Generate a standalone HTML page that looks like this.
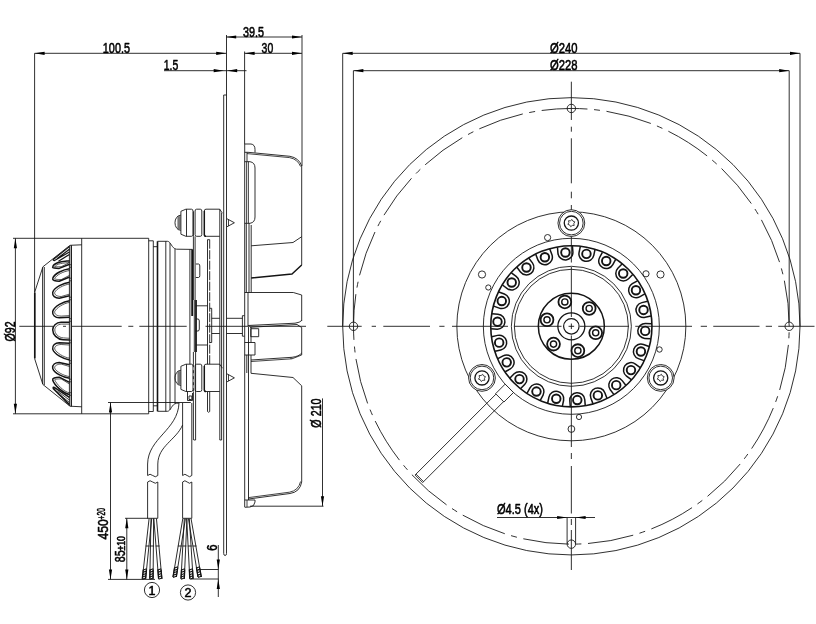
<!DOCTYPE html>
<html><head><meta charset="utf-8"><title>Drawing</title>
<style>
html,body{margin:0;padding:0;background:#fff;}
body{width:816px;height:624px;overflow:hidden;}
svg{display:block;filter:grayscale(1);}
svg text{font-family:"Liberation Sans",sans-serif;fill:#000;stroke:#000;stroke-width:0.55;}
svg .g{fill:none;stroke:#141414;stroke-linecap:butt;stroke-linejoin:round;}
</style></head><body>
<svg width="816" height="624" viewBox="0 0 816 624">
<rect width="816" height="624" fill="#fff"/>
<g class="g">
<line x1="34.60" y1="53.30" x2="226.20" y2="53.30" stroke-width="0.88" />
<polygon points="34.60,53.30 44.60,51.70 44.60,54.90" fill="#000" stroke="none"/>
<polygon points="226.20,53.30 216.20,51.70 216.20,54.90" fill="#000" stroke="none"/>
<text x="102.80" y="53.00" font-size="14" textLength="27.2" lengthAdjust="spacingAndGlyphs" >100.5</text>
<line x1="34.60" y1="53.30" x2="34.60" y2="292.50" stroke-width="0.88" />
<line x1="226.20" y1="37.00" x2="302.00" y2="37.00" stroke-width="0.88" />
<polygon points="226.20,37.00 236.20,35.40 236.20,38.60" fill="#000" stroke="none"/>
<polygon points="302.00,37.00 292.00,35.40 292.00,38.60" fill="#000" stroke="none"/>
<text x="243.00" y="36.70" font-size="14" textLength="21" lengthAdjust="spacingAndGlyphs" >39.5</text>
<line x1="244.60" y1="53.30" x2="302.00" y2="53.30" stroke-width="0.88" />
<polygon points="244.60,53.30 254.60,51.70 254.60,54.90" fill="#000" stroke="none"/>
<polygon points="302.00,53.30 292.00,51.70 292.00,54.90" fill="#000" stroke="none"/>
<text x="261.60" y="53.00" font-size="14" textLength="11.6" lengthAdjust="spacingAndGlyphs" >30</text>
<line x1="302.00" y1="35.00" x2="302.00" y2="166.00" stroke-width="0.88" />
<line x1="244.60" y1="51.50" x2="244.60" y2="144.00" stroke-width="0.88" />
<line x1="164.00" y1="70.70" x2="246.50" y2="70.70" stroke-width="0.88" />
<polygon points="223.70,70.70 213.70,69.10 213.70,72.30" fill="#000" stroke="none"/>
<polygon points="227.20,70.70 237.20,69.10 237.20,72.30" fill="#000" stroke="none"/>
<text x="163.70" y="70.30" font-size="14" textLength="14.5" lengthAdjust="spacingAndGlyphs" >1.5</text>
<line x1="226.50" y1="35.00" x2="226.50" y2="553.50" stroke-width="0.88" />
<line x1="223.70" y1="95.00" x2="223.70" y2="553.50" stroke-width="0.88" />
<path d="M223.7,553.5 Q223.7,555.5 225.1,555.5 Q226.5,555.5 226.5,553.5" stroke-width="0.88" />
<line x1="223.70" y1="95.00" x2="226.50" y2="95.00" stroke-width="0.88" />
<line x1="15.40" y1="238.30" x2="15.40" y2="413.80" stroke-width="0.88" />
<polygon points="15.40,238.30 13.80,248.30 17.00,248.30" fill="#000" stroke="none"/>
<polygon points="15.40,413.80 13.80,403.80 17.00,403.80" fill="#000" stroke="none"/>
<line x1="13.00" y1="238.30" x2="148.70" y2="238.30" stroke-width="0.88" />
<line x1="13.00" y1="413.80" x2="148.70" y2="413.80" stroke-width="0.88" />
<text x="15.00" y="341.40" font-size="14" textLength="20" lengthAdjust="spacingAndGlyphs" transform="rotate(-90 15.00 341.40)" >Ø92</text>
<line x1="19.30" y1="326.30" x2="53.00" y2="326.30" stroke-width="0.88" />
<line x1="63.00" y1="326.30" x2="66.00" y2="326.30" stroke-width="0.88" />
<line x1="72.00" y1="326.30" x2="121.70" y2="326.30" stroke-width="0.88" />
<line x1="128.30" y1="326.30" x2="133.30" y2="326.30" stroke-width="0.88" />
<line x1="139.30" y1="326.30" x2="186.70" y2="326.30" stroke-width="0.88" />
<line x1="205.50" y1="326.30" x2="306.00" y2="326.30" stroke-width="0.88" />
<line x1="81.70" y1="238.30" x2="81.70" y2="413.80" stroke-width="0.88" />
<line x1="148.70" y1="238.30" x2="148.70" y2="413.80" stroke-width="0.88" />
<path d="M34.6,292.5 L42.9,266.8 L70,245.3 L81.7,244.8" stroke-width="0.88" />
<path d="M34.6,358.5 L42.9,384.5 L70,406.2 L81.7,406.8" stroke-width="0.88" />
<line x1="34.80" y1="292.50" x2="34.80" y2="358.50" stroke-width="1.7" />
<line x1="42.60" y1="267.50" x2="42.60" y2="384.00" stroke-width="0.88" />
<line x1="44.30" y1="267.00" x2="44.30" y2="385.00" stroke-width="0.88" />
<line x1="69.40" y1="246.00" x2="69.40" y2="406.00" stroke-width="0.88" />
<line x1="71.30" y1="245.30" x2="71.30" y2="406.50" stroke-width="1.3" />
<path d="M69.6,260.70 C63.599999999999994,261.50 54.20,261.70 52.70,266.90 C52.10,267.80 55.20,268.40 59.20,268.40 L69.6,264.20" stroke-width="1.5" />
<path d="M69.6,262.40 C63.599999999999994,263.20 56.24,263.40 54.74,266.90 C54.14,266.78 57.24,266.70 61.24,266.70 L69.6,262.50" stroke-width="0.7" />
<path d="M69.6,268.80 C63.599999999999994,269.60 54.20,273.30 52.70,278.50 C52.10,280.18 55.20,281.30 59.20,281.30 L69.6,277.00" stroke-width="1.5" />
<path d="M69.6,270.50 C63.599999999999994,271.30 56.24,275.00 54.74,278.50 C54.14,279.16 57.24,279.60 61.24,279.60 L69.6,275.30" stroke-width="0.7" />
<path d="M69.6,282.30 C63.599999999999994,283.10 54.20,287.20 52.70,292.40 C52.10,295.88 55.20,298.20 59.20,298.20 L69.6,295.80" stroke-width="1.5" />
<path d="M69.6,284.00 C63.599999999999994,284.80 56.24,288.90 54.74,292.40 C54.14,294.86 57.24,296.50 61.24,296.50 L69.6,294.10" stroke-width="0.7" />
<path d="M69.6,300.70 C63.599999999999994,301.50 54.20,306.30 52.70,311.50 C52.10,315.28 55.20,317.80 59.20,317.80 L69.6,317.30" stroke-width="1.5" />
<path d="M69.6,302.40 C63.599999999999994,303.20 56.24,308.00 54.74,311.50 C54.14,314.26 57.24,316.10 61.24,316.10 L69.6,315.60" stroke-width="0.7" />
<path d="M69.6,394.50 C63.599999999999994,393.70 54.20,385.20 52.70,380.00 C52.10,378.32 55.20,377.20 59.20,377.20 L69.6,382.40" stroke-width="1.5" />
<path d="M69.6,392.80 C63.599999999999994,392.00 56.24,383.50 54.74,380.00 C54.14,379.34 57.24,378.90 61.24,378.90 L69.6,384.10" stroke-width="0.7" />
<path d="M69.6,378.30 C63.599999999999994,377.50 54.20,373.40 52.70,368.20 C52.10,364.72 55.20,362.40 59.20,362.40 L69.6,364.80" stroke-width="1.5" />
<path d="M69.6,376.60 C63.599999999999994,375.80 56.24,371.70 54.74,368.20 C54.14,365.74 57.24,364.10 61.24,364.10 L69.6,366.50" stroke-width="0.7" />
<path d="M69.6,359.90 C63.599999999999994,359.10 54.20,354.30 52.70,349.10 C52.10,345.32 55.20,342.80 59.20,342.80 L69.6,343.30" stroke-width="1.5" />
<path d="M69.6,358.20 C63.599999999999994,357.40 56.24,352.60 54.74,349.10 C54.14,346.34 57.24,344.50 61.24,344.50 L69.6,345.00" stroke-width="0.7" />
<path d="M69.6,322.3 L61,322.3 C56,322.5 52.7,326 52.7,329.8 C52.7,334.5 57,339.3 63.2,339.7 L69.6,340.1" stroke-width="1.5" />
<path d="M69.6,324.1 L61.5,324.1 C57.5,324.3 54.8,327 54.8,329.9 C54.8,333.6 58.3,337.6 63.5,337.9 L69.6,338.3" stroke-width="0.7" />
<path d="M69.4,246.6 L53.6,259.2 Q52.4,260.6 54.6,260.6 L69.4,252 M69.4,249.2 L57,258.8 M69.4,254.4 L58.5,261.2" stroke-width="1.2" />
<path d="M69.4,397.4 L55.8,388.4 Q52.4,386.2 53.4,388.6 L69.4,404.6" stroke-width="1.5" />
<path d="M69.4,400 L57.5,391.2 M69.4,402.4 L58,393.4" stroke-width="0.8" />
<line x1="69.40" y1="264.70" x2="71.30" y2="264.70" stroke-width="0.7" />
<line x1="69.40" y1="267.30" x2="71.30" y2="267.30" stroke-width="0.7" />
<line x1="69.40" y1="278.20" x2="71.30" y2="278.20" stroke-width="0.7" />
<line x1="69.40" y1="280.80" x2="71.30" y2="280.80" stroke-width="0.7" />
<line x1="69.40" y1="297.20" x2="71.30" y2="297.20" stroke-width="0.7" />
<line x1="69.40" y1="299.80" x2="71.30" y2="299.80" stroke-width="0.7" />
<line x1="69.40" y1="318.70" x2="71.30" y2="318.70" stroke-width="0.7" />
<line x1="69.40" y1="321.30" x2="71.30" y2="321.30" stroke-width="0.7" />
<line x1="69.40" y1="340.20" x2="71.30" y2="340.20" stroke-width="0.7" />
<line x1="69.40" y1="342.80" x2="71.30" y2="342.80" stroke-width="0.7" />
<line x1="69.40" y1="360.70" x2="71.30" y2="360.70" stroke-width="0.7" />
<line x1="69.40" y1="363.30" x2="71.30" y2="363.30" stroke-width="0.7" />
<line x1="69.40" y1="379.20" x2="71.30" y2="379.20" stroke-width="0.7" />
<line x1="69.40" y1="381.80" x2="71.30" y2="381.80" stroke-width="0.7" />
<line x1="69.40" y1="392.70" x2="71.30" y2="392.70" stroke-width="0.7" />
<line x1="69.40" y1="395.30" x2="71.30" y2="395.30" stroke-width="0.7" />
<path d="M148.7,240.8 L153.3,240.8 L153.3,411.5 L148.7,411.5" stroke-width="0.88" />
<line x1="153.30" y1="246.70" x2="157.50" y2="246.70" stroke-width="0.88" />
<line x1="153.30" y1="405.80" x2="157.50" y2="405.80" stroke-width="0.88" />
<line x1="157.50" y1="241.30" x2="157.50" y2="411.30" stroke-width="1.6" />
<path d="M157.5,241.3 L167.5,241.3 C171,241.5 171.5,248.5 176.5,249.2 L192.5,249.4" stroke-width="0.88" />
<path d="M157.5,411.3 L167.5,411.3 C171,411 171.5,404 176.5,403.3 L179,403" stroke-width="0.88" />
<line x1="165.80" y1="241.30" x2="165.80" y2="411.30" stroke-width="0.88" />
<line x1="170.00" y1="243.00" x2="170.00" y2="409.60" stroke-width="0.88" />
<line x1="175.00" y1="249.00" x2="175.00" y2="403.50" stroke-width="0.88" />
<line x1="192.20" y1="249.40" x2="192.20" y2="316.00" stroke-width="1.9" />
<line x1="189.90" y1="249.40" x2="189.90" y2="364.20" stroke-width="0.88" />
<line x1="193.40" y1="211.30" x2="193.40" y2="236.30" stroke-width="0.88" />
<line x1="193.40" y1="236.30" x2="193.40" y2="300.00" stroke-width="0.88" />
<line x1="194.30" y1="300.00" x2="194.30" y2="352.00" stroke-width="0.88" />
<line x1="193.40" y1="352.00" x2="193.40" y2="364.20" stroke-width="0.88" />
<line x1="193.40" y1="364.20" x2="193.40" y2="391.50" stroke-width="0.88" stroke-dasharray="3 3"/>
<line x1="193.40" y1="391.50" x2="193.40" y2="440.00" stroke-width="0.88" />
<line x1="195.10" y1="236.30" x2="195.10" y2="300.00" stroke-width="0.88" />
<line x1="196.00" y1="300.00" x2="196.00" y2="352.00" stroke-width="1.8" />
<line x1="195.60" y1="352.00" x2="195.60" y2="440.00" stroke-width="0.88" />
<path d="M193.8,440 L195.6,440" stroke-width="0.88" />
<path d="M195.8,264 L198.5,264 Q199.8,264 199.8,266 L199.8,275.5 Q199.8,277.5 198.5,277.5 L195.8,277.5" stroke-width="0.88" />
<path d="M195.8,319 L198,319 Q199.3,319 199.3,321 L199.3,329 Q199.3,331 198,331 L195.8,331" stroke-width="0.88" />
<line x1="195.80" y1="305.80" x2="207.50" y2="305.80" stroke-width="0.88" />
<line x1="195.80" y1="345.00" x2="207.50" y2="345.00" stroke-width="0.88" />
<line x1="207.50" y1="239.70" x2="207.50" y2="364.20" stroke-width="0.88" />
<line x1="209.70" y1="239.70" x2="209.70" y2="364.20" stroke-width="0.88" stroke-dasharray="9 1.5"/>
<line x1="207.50" y1="239.70" x2="209.70" y2="239.70" stroke-width="0.88" />
<path d="M209.7,308.3 L211.7,308.3 L211.7,342.5 L209.7,342.5" stroke-width="0.88" />
<line x1="211.70" y1="318.30" x2="219.80" y2="318.30" stroke-width="0.88" />
<line x1="211.70" y1="333.50" x2="219.80" y2="333.50" stroke-width="0.88" />
<line x1="226.70" y1="318.30" x2="242.40" y2="318.30" stroke-width="0.88" />
<line x1="226.70" y1="333.50" x2="242.40" y2="333.50" stroke-width="0.88" />
<path d="M244.5,315.7 L242.4,315.7 L242.4,336.2 L244.5,336.2" stroke-width="0.88" />
<path d="M207.5,391.7 L207.5,411.5 Q208.6,413 209.7,411.5 L209.7,391.7" stroke-width="0.88" />
<line x1="219.80" y1="209.20" x2="219.80" y2="440.00" stroke-width="0.88" />
<line x1="221.60" y1="213.00" x2="221.60" y2="440.00" stroke-width="0.88" />
<line x1="219.80" y1="440.00" x2="221.60" y2="440.00" stroke-width="0.88" />
<path d="M180.9,215.15 C173.0,215.55 173.0,229.95 180.9,230.35" stroke-width="0.88" />
<line x1="178.00" y1="216.15" x2="178.00" y2="229.35" stroke-width="0.7" />
<line x1="179.00" y1="216.15" x2="179.00" y2="229.35" stroke-width="0.7" />
<line x1="180.00" y1="216.15" x2="180.00" y2="229.35" stroke-width="0.7" />
<path d="M180.9,211.29999999999998 L185.9,209.2 L191.5,209.2 Q193,209.2 193,211.2 L193,234.3 Q193,236.3 191.5,236.3 L185.9,236.3 L180.9,234.20000000000002 Z" stroke-width="0.88" />
<line x1="186.50" y1="209.20" x2="186.50" y2="236.30" stroke-width="0.88" />
<path d="M196.6,209.2 L200.3,209.2 Q201.8,209.2 201.8,211.0 L201.8,234.5 Q201.8,236.3 200.3,236.3 L196.6,236.3 Q195.1,236.3 195.1,234.5 L195.1,211.0 Q195.1,209.2 196.6,209.2 Z" stroke-width="0.88" />
<path d="M204.3,211.0 Q204.3,209.2 206,209.2 L219.7,209.2 L222.4,213.2 M206,236.3 L219.7,236.3" stroke-width="0.88" />
<path d="M204.3,211.0 L204.3,234.5 Q204.3,236.3 206,236.3" stroke-width="1.5" />
<path d="M227,218.75 L234.4,222.75 L227,226.75" stroke-width="0.88" />
<line x1="228.50" y1="219.55" x2="228.50" y2="225.95" stroke-width="0.8" />
<path d="M180.9,370.25 C173.0,370.65000000000003 173.0,385.05 180.9,385.45000000000005" stroke-width="0.88" />
<line x1="178.00" y1="371.25" x2="178.00" y2="384.45" stroke-width="0.7" />
<line x1="179.00" y1="371.25" x2="179.00" y2="384.45" stroke-width="0.7" />
<line x1="180.00" y1="371.25" x2="180.00" y2="384.45" stroke-width="0.7" />
<path d="M180.9,366.3 L185.9,364.2 L191.5,364.2 Q193,364.2 193,366.2 L193,389.5 Q193,391.5 191.5,391.5 L185.9,391.5 L180.9,389.4 Z" stroke-width="0.88" />
<line x1="186.50" y1="364.20" x2="186.50" y2="391.50" stroke-width="0.88" />
<path d="M196.6,364.2 L200.3,364.2 Q201.8,364.2 201.8,366.0 L201.8,389.7 Q201.8,391.5 200.3,391.5 L196.6,391.5 Q195.1,391.5 195.1,389.7 L195.1,366.0 Q195.1,364.2 196.6,364.2 Z" stroke-width="0.88" />
<path d="M204.3,366.0 Q204.3,364.2 206,364.2 L219.7,364.2 L222.4,368.2 M206,391.5 L219.7,391.5" stroke-width="0.88" />
<path d="M204.3,366.0 L204.3,389.7 Q204.3,391.5 206,391.5" stroke-width="1.5" />
<path d="M227,373.85 L234.4,377.85 L227,381.85" stroke-width="0.88" />
<line x1="228.50" y1="374.65" x2="228.50" y2="381.05" stroke-width="0.8" />
<path d="M187.5,391.7 L187.5,400.5 L192.5,400.5 L192.5,393 M189,396 L191.8,396 L191.8,399.5 L189,399.5 Z" stroke-width="0.88" />
<line x1="108.00" y1="402.50" x2="190.80" y2="402.50" stroke-width="0.88" />
<line x1="110.50" y1="402.50" x2="110.50" y2="579.40" stroke-width="0.88" />
<polygon points="110.50,402.50 108.90,412.50 112.10,412.50" fill="#000" stroke="none"/>
<polygon points="110.50,579.40 108.90,569.40 112.10,569.40" fill="#000" stroke="none"/>
<line x1="108.00" y1="579.40" x2="155.00" y2="579.40" stroke-width="0.88" />
<text x="107.80" y="539.60" font-size="14" textLength="20.4" lengthAdjust="spacingAndGlyphs" transform="rotate(-90 107.80 539.60)" >450</text>
<text x="105.30" y="519.40" font-size="10.5" textLength="11.2" lengthAdjust="spacingAndGlyphs" transform="rotate(-90 105.30 519.40)" >+20</text>
<line x1="126.80" y1="518.30" x2="126.80" y2="579.40" stroke-width="0.88" />
<polygon points="126.80,518.30 125.20,528.30 128.40,528.30" fill="#000" stroke="none"/>
<polygon points="126.80,579.40 125.20,569.40 128.40,569.40" fill="#000" stroke="none"/>
<line x1="125.00" y1="518.30" x2="148.00" y2="518.30" stroke-width="0.88" />
<text x="124.80" y="562.20" font-size="14" textLength="11.8" lengthAdjust="spacingAndGlyphs" transform="rotate(-90 124.80 562.20)" >85</text>
<text x="124.80" y="550.60" font-size="10.5" textLength="14.6" lengthAdjust="spacingAndGlyphs" transform="rotate(-90 124.80 550.60)" >±10</text>
<path d="M179,403 C178,430 148,438 147.6,464 L147.6,475.5" stroke-width="0.88" />
<path d="M182.6,425 C176,440 158,446 157.8,464 L157.8,475.5" stroke-width="0.88" />
<path d="M147.6,475.5 Q150,473 152.7,475.5 T157.8,475.5" stroke-width="0.88" />
<path d="M147.6,482 Q150,479.5 152.7,482 T157.8,482" stroke-width="0.88" />
<line x1="147.60" y1="482.00" x2="147.60" y2="518.30" stroke-width="0.88" />
<line x1="157.80" y1="482.00" x2="157.80" y2="518.30" stroke-width="0.88" />
<line x1="147.60" y1="518.30" x2="157.80" y2="518.30" stroke-width="0.88" />
<line x1="182.60" y1="403.00" x2="182.60" y2="475.50" stroke-width="0.88" />
<line x1="191.80" y1="403.00" x2="191.80" y2="475.50" stroke-width="0.88" />
<path d="M182.6,475.5 Q184.9,473 187.2,475.5 T191.8,475.5" stroke-width="0.88" />
<path d="M182.6,482 Q184.9,479.5 187.2,482 T191.8,482" stroke-width="0.88" />
<line x1="182.60" y1="482.00" x2="182.60" y2="518.30" stroke-width="0.88" />
<line x1="191.80" y1="482.00" x2="191.80" y2="518.30" stroke-width="0.88" />
<line x1="182.60" y1="518.30" x2="191.80" y2="518.30" stroke-width="0.88" />
<line x1="149.10" y1="518.50" x2="142.30" y2="578.80" stroke-width="0.9" />
<line x1="151.74" y1="518.50" x2="145.60" y2="578.80" stroke-width="0.9" />
<line x1="143.35" y1="569.50" x2="142.30" y2="578.80" stroke-width="1.3" />
<line x1="146.52" y1="569.50" x2="145.60" y2="578.80" stroke-width="1.3" />
<line x1="143.35" y1="570.00" x2="146.65" y2="568.80" stroke-width="1.1" />
<line x1="143.09" y1="572.33" x2="146.39" y2="571.12" stroke-width="1.1" />
<line x1="142.82" y1="574.65" x2="146.12" y2="573.45" stroke-width="1.1" />
<line x1="142.56" y1="576.97" x2="145.86" y2="575.77" stroke-width="1.1" />
<line x1="142.30" y1="579.30" x2="145.60" y2="578.10" stroke-width="1.1" />
<line x1="145.70" y1="546.00" x2="149.60" y2="546.00" stroke-width="0.9" />
<line x1="151.00" y1="518.50" x2="149.80" y2="578.80" stroke-width="0.9" />
<line x1="153.64" y1="518.50" x2="153.10" y2="578.80" stroke-width="0.9" />
<line x1="149.99" y1="569.50" x2="149.80" y2="578.80" stroke-width="1.3" />
<line x1="153.15" y1="569.50" x2="153.10" y2="578.80" stroke-width="1.3" />
<line x1="149.99" y1="570.00" x2="153.29" y2="568.80" stroke-width="1.1" />
<line x1="149.94" y1="572.33" x2="153.24" y2="571.12" stroke-width="1.1" />
<line x1="149.89" y1="574.65" x2="153.19" y2="573.45" stroke-width="1.1" />
<line x1="149.85" y1="576.97" x2="153.15" y2="575.77" stroke-width="1.1" />
<line x1="149.80" y1="579.30" x2="153.10" y2="578.10" stroke-width="1.1" />
<line x1="150.15" y1="546.00" x2="154.05" y2="546.00" stroke-width="0.9" />
<line x1="153.80" y1="518.50" x2="158.60" y2="578.80" stroke-width="0.9" />
<line x1="156.44" y1="518.50" x2="161.90" y2="578.80" stroke-width="0.9" />
<line x1="157.86" y1="569.50" x2="158.60" y2="578.80" stroke-width="1.3" />
<line x1="161.03" y1="569.50" x2="161.90" y2="578.80" stroke-width="1.3" />
<line x1="157.86" y1="570.00" x2="161.16" y2="568.80" stroke-width="1.1" />
<line x1="158.04" y1="572.33" x2="161.34" y2="571.12" stroke-width="1.1" />
<line x1="158.23" y1="574.65" x2="161.53" y2="573.45" stroke-width="1.1" />
<line x1="158.41" y1="576.97" x2="161.71" y2="575.77" stroke-width="1.1" />
<line x1="158.60" y1="579.30" x2="161.90" y2="578.10" stroke-width="1.1" />
<line x1="155.69" y1="546.00" x2="159.59" y2="546.00" stroke-width="0.9" />
<line x1="182.80" y1="518.50" x2="173.00" y2="577.00" stroke-width="0.9" />
<line x1="185.44" y1="518.50" x2="176.30" y2="577.00" stroke-width="0.9" />
<line x1="174.59" y1="567.50" x2="173.00" y2="577.00" stroke-width="1.3" />
<line x1="177.76" y1="567.50" x2="176.30" y2="577.00" stroke-width="1.3" />
<line x1="174.59" y1="568.00" x2="177.89" y2="566.80" stroke-width="1.1" />
<line x1="174.19" y1="570.38" x2="177.49" y2="569.17" stroke-width="1.1" />
<line x1="173.80" y1="572.75" x2="177.10" y2="571.55" stroke-width="1.1" />
<line x1="173.40" y1="575.12" x2="176.70" y2="573.92" stroke-width="1.1" />
<line x1="173.00" y1="577.50" x2="176.30" y2="576.30" stroke-width="1.1" />
<line x1="177.89" y1="546.00" x2="181.79" y2="546.00" stroke-width="0.9" />
<line x1="184.30" y1="518.50" x2="181.00" y2="578.80" stroke-width="0.9" />
<line x1="186.94" y1="518.50" x2="184.30" y2="578.80" stroke-width="0.9" />
<line x1="181.51" y1="569.50" x2="181.00" y2="578.80" stroke-width="1.3" />
<line x1="184.68" y1="569.50" x2="184.30" y2="578.80" stroke-width="1.3" />
<line x1="181.51" y1="570.00" x2="184.81" y2="568.80" stroke-width="1.1" />
<line x1="181.38" y1="572.33" x2="184.68" y2="571.12" stroke-width="1.1" />
<line x1="181.25" y1="574.65" x2="184.55" y2="573.45" stroke-width="1.1" />
<line x1="181.13" y1="576.97" x2="184.43" y2="575.77" stroke-width="1.1" />
<line x1="181.00" y1="579.30" x2="184.30" y2="578.10" stroke-width="1.1" />
<line x1="182.50" y1="546.00" x2="186.40" y2="546.00" stroke-width="0.9" />
<line x1="186.70" y1="518.50" x2="189.80" y2="578.80" stroke-width="0.9" />
<line x1="189.34" y1="518.50" x2="193.10" y2="578.80" stroke-width="0.9" />
<line x1="189.32" y1="569.50" x2="189.80" y2="578.80" stroke-width="1.3" />
<line x1="192.49" y1="569.50" x2="193.10" y2="578.80" stroke-width="1.3" />
<line x1="189.32" y1="570.00" x2="192.62" y2="568.80" stroke-width="1.1" />
<line x1="189.44" y1="572.33" x2="192.74" y2="571.12" stroke-width="1.1" />
<line x1="189.56" y1="574.65" x2="192.86" y2="573.45" stroke-width="1.1" />
<line x1="189.68" y1="576.97" x2="192.98" y2="575.77" stroke-width="1.1" />
<line x1="189.80" y1="579.30" x2="193.10" y2="578.10" stroke-width="1.1" />
<line x1="187.81" y1="546.00" x2="191.71" y2="546.00" stroke-width="0.9" />
<line x1="188.40" y1="518.50" x2="198.00" y2="577.00" stroke-width="0.9" />
<line x1="191.04" y1="518.50" x2="201.30" y2="577.00" stroke-width="0.9" />
<line x1="196.44" y1="567.50" x2="198.00" y2="577.00" stroke-width="1.3" />
<line x1="199.61" y1="567.50" x2="201.30" y2="577.00" stroke-width="1.3" />
<line x1="196.44" y1="568.00" x2="199.74" y2="566.80" stroke-width="1.1" />
<line x1="196.83" y1="570.38" x2="200.13" y2="569.17" stroke-width="1.1" />
<line x1="197.22" y1="572.75" x2="200.52" y2="571.55" stroke-width="1.1" />
<line x1="197.61" y1="575.12" x2="200.91" y2="573.92" stroke-width="1.1" />
<line x1="198.00" y1="577.50" x2="201.30" y2="576.30" stroke-width="1.1" />
<line x1="192.61" y1="546.00" x2="196.51" y2="546.00" stroke-width="0.9" />
<circle cx="152.00" cy="590.00" r="7.60" stroke-width="0.88" />
<circle cx="188.00" cy="592.50" r="7.60" stroke-width="0.88" />
<text x="152" y="594.6" font-size="12.5" text-anchor="middle">1</text>
<text x="188" y="597.1" font-size="12.5" text-anchor="middle">2</text>
<line x1="218.30" y1="545.00" x2="218.30" y2="597.00" stroke-width="0.88" />
<polygon points="218.30,569.50 216.70,559.50 219.90,559.50" fill="#000" stroke="none"/>
<polygon points="218.30,579.00 216.70,589.00 219.90,589.00" fill="#000" stroke="none"/>
<line x1="198.00" y1="569.50" x2="218.50" y2="569.50" stroke-width="0.88" />
<line x1="191.00" y1="579.00" x2="218.50" y2="579.00" stroke-width="0.88" />
<text x="217.20" y="550.80" font-size="14" textLength="6.2" lengthAdjust="spacingAndGlyphs" transform="rotate(-90 217.20 550.80)" >6</text>
<line x1="244.70" y1="144.00" x2="244.70" y2="507.00" stroke-width="0.88" />
<line x1="301.70" y1="166.00" x2="301.70" y2="265.00" stroke-width="0.88" />
<line x1="301.70" y1="295.00" x2="301.70" y2="321.00" stroke-width="0.88" />
<line x1="301.70" y1="327.50" x2="301.70" y2="355.00" stroke-width="0.88" />
<line x1="301.70" y1="385.80" x2="301.70" y2="482.00" stroke-width="0.88" />
<path d="M244.7,144 L251,144 Q255,144.5 255,149.5 L255,152.5" stroke-width="0.88" />
<path d="M244.7,152.3 L248,152.3 L290,156.3 Q299,158 301.7,166" stroke-width="0.88" />
<path d="M247,153.6 L289.5,157.6 Q297.5,159 300.6,166.5" stroke-width="0.8" />
<line x1="247.00" y1="152.30" x2="247.00" y2="161.70" stroke-width="0.88" />
<path d="M244.7,161.7 L250,161.7 Q255,162.5 255,168 L255,217 Q255,222.5 250,223.3 L244.7,223.3" stroke-width="0.88" />
<line x1="246.60" y1="161.70" x2="246.60" y2="223.30" stroke-width="0.8" />
<line x1="248.40" y1="161.70" x2="248.40" y2="223.30" stroke-width="0.8" />
<line x1="246.30" y1="223.30" x2="246.30" y2="292.50" stroke-width="0.88" />
<line x1="249.00" y1="223.30" x2="249.00" y2="292.50" stroke-width="0.88" />
<line x1="251.20" y1="225.00" x2="251.20" y2="292.50" stroke-width="0.88" />
<path d="M251.2,245.8 L293,242.5 L301.7,236.7" stroke-width="0.88" />
<path d="M251.2,278 L292,274 L301.7,265" stroke-width="1.5" />
<path d="M244.7,292.5 L293.3,292.5 L301.7,295" stroke-width="0.88" />
<line x1="248.00" y1="292.50" x2="248.00" y2="326.00" stroke-width="0.88" />
<path d="M248,325.5 L295,323.2 Q300,322.5 301.7,320.5" stroke-width="0.88" />
<path d="M250,327.3 L297,324.5 L301.7,327.5" stroke-width="0.88" />
<line x1="248.50" y1="327.00" x2="248.50" y2="373.00" stroke-width="0.88" />
<line x1="251.00" y1="327.00" x2="251.00" y2="342.50" stroke-width="0.88" />
<path d="M250.8,328.7 L258.7,328.7 L258.7,336.7 L250.8,336.7 Z" stroke-width="0.88" />
<path d="M244.7,342.5 L255,342.5 L255,355 L244.7,355" stroke-width="0.88" />
<path d="M251,360 L292,357.3 Q299,356.5 301.7,353" stroke-width="0.88" />
<path d="M251,361.5 L292,358.8 L301.7,355" stroke-width="0.8" />
<line x1="291.00" y1="357.50" x2="291.00" y2="359.00" stroke-width="0.8" />
<line x1="246.80" y1="355.00" x2="246.80" y2="373.00" stroke-width="0.88" />
<line x1="251.00" y1="355.00" x2="251.00" y2="373.30" stroke-width="0.88" />
<path d="M251,373.3 L293,377.5 L301.7,385.8" stroke-width="0.88" />
<line x1="248.50" y1="373.00" x2="248.50" y2="500.00" stroke-width="0.88" />
<path d="M301.7,482 Q300,492 290,493.5 L248.5,499" stroke-width="0.88" />
<path d="M300.6,481.5 Q298.5,490.5 289.5,492.2 L248.5,497.6" stroke-width="0.8" />
<path d="M244.7,500 L255,500 L255,502 Q254.5,506.5 250,507 L244.7,507.3" stroke-width="0.88" />
<line x1="247.00" y1="500.00" x2="247.00" y2="507.00" stroke-width="0.8" />
<line x1="322.50" y1="398.40" x2="322.50" y2="506.20" stroke-width="0.88" />
<polygon points="322.50,506.20 320.90,496.20 324.10,496.20" fill="#000" stroke="none"/>
<line x1="250.00" y1="506.20" x2="323.50" y2="506.20" stroke-width="0.88" />
<text x="321.50" y="427.70" font-size="14" textLength="29.3" lengthAdjust="spacingAndGlyphs" transform="rotate(-90 321.50 427.70)" >Ø 210</text>
</g>
<g class="g">
<line x1="342.70" y1="53.30" x2="800.00" y2="53.30" stroke-width="0.88" />
<polygon points="342.70,53.30 352.70,51.70 352.70,54.90" fill="#000" stroke="none"/>
<polygon points="800.00,53.30 790.00,51.70 790.00,54.90" fill="#000" stroke="none"/>
<text x="550.00" y="53.00" font-size="14" textLength="27.5" lengthAdjust="spacingAndGlyphs" >Ø240</text>
<line x1="353.40" y1="70.70" x2="789.20" y2="70.70" stroke-width="0.88" />
<polygon points="353.40,70.70 363.40,69.10 363.40,72.30" fill="#000" stroke="none"/>
<polygon points="789.20,70.70 779.20,69.10 779.20,72.30" fill="#000" stroke="none"/>
<text x="550.00" y="70.30" font-size="14" textLength="27.5" lengthAdjust="spacingAndGlyphs" >Ø228</text>
<line x1="342.70" y1="53.30" x2="342.70" y2="326.30" stroke-width="0.88" />
<line x1="800.00" y1="53.30" x2="800.00" y2="326.30" stroke-width="0.88" />
<line x1="353.40" y1="70.70" x2="353.40" y2="322.00" stroke-width="0.88" />
<line x1="789.20" y1="70.70" x2="789.20" y2="322.00" stroke-width="0.88" />
<line x1="327.30" y1="326.30" x2="361.70" y2="326.30" stroke-width="0.88" />
<line x1="371.70" y1="326.30" x2="376.00" y2="326.30" stroke-width="0.88" />
<line x1="383.30" y1="326.30" x2="430.00" y2="326.30" stroke-width="0.88" />
<line x1="439.30" y1="326.30" x2="444.50" y2="326.30" stroke-width="0.88" />
<line x1="452.00" y1="326.30" x2="508.00" y2="326.30" stroke-width="0.88" />
<line x1="514.00" y1="326.30" x2="561.50" y2="326.30" stroke-width="0.88" />
<line x1="580.00" y1="326.30" x2="629.00" y2="326.30" stroke-width="0.88" />
<line x1="635.25" y1="326.30" x2="692.00" y2="326.30" stroke-width="0.88" />
<line x1="700.75" y1="326.30" x2="707.00" y2="326.30" stroke-width="0.88" />
<line x1="713.25" y1="326.30" x2="759.50" y2="326.30" stroke-width="0.88" />
<line x1="765.75" y1="326.30" x2="772.00" y2="326.30" stroke-width="0.88" />
<line x1="778.25" y1="326.30" x2="814.50" y2="326.30" stroke-width="0.88" />
<line x1="571.35" y1="81.70" x2="571.35" y2="120.00" stroke-width="0.88" />
<line x1="571.35" y1="126.70" x2="571.35" y2="131.70" stroke-width="0.88" />
<line x1="571.35" y1="138.30" x2="571.35" y2="183.30" stroke-width="0.88" />
<line x1="571.35" y1="191.70" x2="571.35" y2="198.30" stroke-width="0.88" />
<line x1="571.35" y1="205.00" x2="571.35" y2="262.50" stroke-width="0.88" />
<line x1="571.35" y1="266.90" x2="571.35" y2="317.00" stroke-width="0.88" />
<line x1="571.35" y1="335.50" x2="571.35" y2="447.00" stroke-width="0.88" />
<line x1="571.35" y1="453.00" x2="571.35" y2="459.00" stroke-width="0.88" />
<line x1="571.35" y1="466.00" x2="571.35" y2="513.50" stroke-width="0.88" />
<line x1="571.35" y1="519.00" x2="571.35" y2="525.00" stroke-width="0.88" />
<line x1="571.35" y1="530.00" x2="571.35" y2="570.00" stroke-width="0.88" />
<circle cx="571.35" cy="326.30" r="228.65" stroke-width="0.88" />
<circle cx="571.35" cy="326.30" r="217.85" stroke-width="0.88" stroke-dasharray="46 6.59 6 6.59" stroke-dashoffset="46.54"/>
<circle cx="571.35" cy="108.45" r="4.20" stroke-width="0.88" />
<circle cx="571.35" cy="544.15" r="4.20" stroke-width="0.88" />
<circle cx="353.50" cy="326.30" r="4.20" stroke-width="0.88" />
<circle cx="789.20" cy="326.30" r="4.20" stroke-width="0.88" />
<circle cx="571.35" cy="326.30" r="114.50" stroke-width="0.88" />
<circle cx="571.35" cy="326.30" r="88.00" stroke-width="0.88" />
<circle cx="571.35" cy="326.30" r="80.60" stroke-width="1.6" />
<circle cx="571.35" cy="326.30" r="60.00" stroke-width="0.88" />
<circle cx="571.35" cy="326.30" r="57.00" stroke-width="0.88" />
<circle cx="571.35" cy="326.30" r="33.00" stroke-width="1.5" />
<circle cx="571.35" cy="326.30" r="13.50" stroke-width="1.3" />
<circle cx="571.35" cy="326.30" r="7.75" stroke-width="1.2" />
<line x1="568.55" y1="326.30" x2="574.15" y2="326.30" stroke-width="0.9" />
<line x1="571.35" y1="323.50" x2="571.35" y2="329.10" stroke-width="0.9" />
<circle cx="564.83" cy="301.96" r="6.40" stroke-width="1.8" />
<circle cx="564.83" cy="301.96" r="3.10" stroke-width="1.4" />
<circle cx="589.17" cy="308.48" r="6.40" stroke-width="1.8" />
<circle cx="589.17" cy="308.48" r="3.10" stroke-width="1.4" />
<circle cx="595.69" cy="332.82" r="6.40" stroke-width="1.8" />
<circle cx="595.69" cy="332.82" r="3.10" stroke-width="1.4" />
<circle cx="577.87" cy="350.64" r="6.40" stroke-width="1.8" />
<circle cx="577.87" cy="350.64" r="3.10" stroke-width="1.4" />
<circle cx="553.53" cy="344.12" r="6.40" stroke-width="1.8" />
<circle cx="553.53" cy="344.12" r="3.10" stroke-width="1.4" />
<circle cx="547.01" cy="319.78" r="6.40" stroke-width="1.8" />
<circle cx="547.01" cy="319.78" r="3.10" stroke-width="1.4" />
<circle cx="565.42" cy="252.54" r="4.25" stroke-width="1.9" />
<path d="M572.42,246.04 L572.89,251.94 A7.5,7.5 0 0 1 557.94,253.14 L557.46,247.24" stroke-width="1.5" />
<circle cx="586.44" cy="253.85" r="4.25" stroke-width="1.9" />
<path d="M594.99,249.59 L593.78,255.38 A7.5,7.5 0 0 1 579.09,252.33 L580.30,246.53" stroke-width="1.5" />
<circle cx="606.24" cy="261.04" r="4.25" stroke-width="1.9" />
<path d="M615.64,259.35 L612.85,264.57 A7.5,7.5 0 0 1 599.62,257.50 L602.41,252.28" stroke-width="1.5" />
<circle cx="623.21" cy="273.51" r="4.25" stroke-width="1.9" />
<path d="M632.71,274.54 L628.56,278.77 A7.5,7.5 0 0 1 617.86,268.26 L622.01,264.03" stroke-width="1.5" />
<circle cx="635.98" cy="290.26" r="4.25" stroke-width="1.9" />
<path d="M644.80,293.93 L639.63,296.81 A7.5,7.5 0 0 1 632.33,283.71 L637.50,280.83" stroke-width="1.5" />
<circle cx="643.52" cy="309.93" r="4.25" stroke-width="1.9" />
<path d="M650.95,315.93 L645.18,317.24 A7.5,7.5 0 0 1 641.86,302.61 L647.63,301.30" stroke-width="1.5" />
<circle cx="645.21" cy="330.92" r="4.25" stroke-width="1.9" />
<path d="M650.65,338.78 L644.74,338.41 A7.5,7.5 0 0 1 645.67,323.44 L651.58,323.81" stroke-width="1.5" />
<circle cx="640.91" cy="351.54" r="4.25" stroke-width="1.9" />
<path d="M643.92,360.61 L638.35,358.59 A7.5,7.5 0 0 1 643.47,344.49 L649.04,346.51" stroke-width="1.5" />
<circle cx="630.98" cy="370.12" r="4.25" stroke-width="1.9" />
<path d="M631.31,379.67 L626.54,376.16 A7.5,7.5 0 0 1 635.42,364.07 L640.19,367.58" stroke-width="1.5" />
<circle cx="616.22" cy="385.14" r="4.25" stroke-width="1.9" />
<path d="M613.85,394.40 L610.26,389.69 A7.5,7.5 0 0 1 622.19,380.60 L625.78,385.30" stroke-width="1.5" />
<circle cx="597.83" cy="395.40" r="4.25" stroke-width="1.9" />
<path d="M592.94,403.61 L590.82,398.09 A7.5,7.5 0 0 1 604.83,392.72 L606.95,398.25" stroke-width="1.5" />
<circle cx="577.28" cy="400.06" r="4.25" stroke-width="1.9" />
<path d="M570.28,406.56 L569.81,400.66 A7.5,7.5 0 0 1 584.76,399.46 L585.24,405.36" stroke-width="1.5" />
<circle cx="556.26" cy="398.75" r="4.25" stroke-width="1.9" />
<path d="M547.71,403.01 L548.92,397.22 A7.5,7.5 0 0 1 563.61,400.27 L562.40,406.07" stroke-width="1.5" />
<circle cx="536.46" cy="391.56" r="4.25" stroke-width="1.9" />
<path d="M527.06,393.25 L529.85,388.03 A7.5,7.5 0 0 1 543.08,395.10 L540.29,400.32" stroke-width="1.5" />
<circle cx="519.49" cy="379.09" r="4.25" stroke-width="1.9" />
<path d="M509.99,378.06 L514.14,373.83 A7.5,7.5 0 0 1 524.84,384.34 L520.69,388.57" stroke-width="1.5" />
<circle cx="506.72" cy="362.34" r="4.25" stroke-width="1.9" />
<path d="M497.90,358.67 L503.07,355.79 A7.5,7.5 0 0 1 510.37,368.89 L505.20,371.77" stroke-width="1.5" />
<circle cx="499.18" cy="342.67" r="4.25" stroke-width="1.9" />
<path d="M491.75,336.67 L497.52,335.36 A7.5,7.5 0 0 1 500.84,349.99 L495.07,351.30" stroke-width="1.5" />
<circle cx="497.49" cy="321.68" r="4.25" stroke-width="1.9" />
<path d="M492.05,313.82 L497.96,314.19 A7.5,7.5 0 0 1 497.03,329.16 L491.12,328.79" stroke-width="1.5" />
<circle cx="501.79" cy="301.06" r="4.25" stroke-width="1.9" />
<path d="M498.78,291.99 L504.35,294.01 A7.5,7.5 0 0 1 499.23,308.11 L493.66,306.09" stroke-width="1.5" />
<circle cx="511.72" cy="282.48" r="4.25" stroke-width="1.9" />
<path d="M511.39,272.93 L516.16,276.44 A7.5,7.5 0 0 1 507.28,288.53 L502.51,285.02" stroke-width="1.5" />
<circle cx="526.48" cy="267.46" r="4.25" stroke-width="1.9" />
<path d="M528.85,258.20 L532.44,262.91 A7.5,7.5 0 0 1 520.51,272.00 L516.92,267.30" stroke-width="1.5" />
<circle cx="544.87" cy="257.20" r="4.25" stroke-width="1.9" />
<path d="M549.76,248.99 L551.88,254.51 A7.5,7.5 0 0 1 537.87,259.88 L535.75,254.35" stroke-width="1.5" />
<circle cx="571.35" cy="223.10" r="13.40" stroke-width="0.88" fill="#fff"/>
<circle cx="571.35" cy="223.10" r="11.80" stroke-width="0.88" />
<circle cx="571.35" cy="223.10" r="7.10" stroke-width="1.3" />
<path d="M571.99,219.46 L572.96,221.18 L574.83,221.83 L573.81,223.53 L574.18,225.48 L572.21,225.45 L570.71,226.74 L569.74,225.02 L567.87,224.37 L568.89,222.67 L568.52,220.72 L570.49,220.75 Z" stroke-width="0.8" />
<circle cx="660.72" cy="377.90" r="13.40" stroke-width="0.88" fill="#fff"/>
<circle cx="660.72" cy="377.90" r="11.80" stroke-width="0.88" />
<circle cx="660.72" cy="377.90" r="7.10" stroke-width="1.3" />
<path d="M661.37,374.26 L662.33,375.98 L664.20,376.63 L663.19,378.33 L663.56,380.28 L661.58,380.25 L660.08,381.54 L659.12,379.82 L657.25,379.17 L658.26,377.47 L657.89,375.52 L659.87,375.55 Z" stroke-width="0.8" />
<circle cx="481.98" cy="377.90" r="13.40" stroke-width="0.88" fill="#fff"/>
<circle cx="481.98" cy="377.90" r="11.80" stroke-width="0.88" />
<circle cx="481.98" cy="377.90" r="7.10" stroke-width="1.3" />
<path d="M482.62,374.26 L483.58,375.98 L485.45,376.63 L484.44,378.33 L484.81,380.28 L482.83,380.25 L481.33,381.54 L480.37,379.82 L478.50,379.17 L479.51,377.47 L479.14,375.52 L481.12,375.55 Z" stroke-width="0.8" />
<circle cx="547.60" cy="237.60" r="3.10" stroke-width="0.88" />
<circle cx="482.00" cy="274.50" r="3.60" stroke-width="0.88" />
<circle cx="488.30" cy="287.50" r="2.60" stroke-width="0.88" />
<circle cx="646.00" cy="273.80" r="3.10" stroke-width="0.88" />
<circle cx="660.50" cy="274.50" r="3.60" stroke-width="0.88" />
<circle cx="659.50" cy="349.50" r="2.70" stroke-width="0.88" />
<circle cx="579.00" cy="417.00" r="2.60" stroke-width="0.88" />
<circle cx="571.40" cy="429.00" r="3.40" stroke-width="0.88" />
<path d="M513.51,392.49 L503.96,402.03 L495.62,393.69 L505.16,384.14 Z" stroke-width="0.88" fill="#fff"/>
<path d="M503.57,401.64 L422.68,482.54 L415.11,474.97 L496.01,394.08" stroke-width="0.88" />
<path d="M423.60,481.62 L416.03,474.05" stroke-width="0.8" />
<line x1="497.00" y1="517.50" x2="595.00" y2="517.50" stroke-width="0.88" />
<polygon points="567.10,517.50 557.10,515.90 557.10,519.10" fill="#000" stroke="none"/>
<polygon points="575.60,517.50 585.60,515.90 585.60,519.10" fill="#000" stroke="none"/>
<line x1="567.10" y1="517.50" x2="567.10" y2="543.50" stroke-width="0.88" />
<line x1="575.60" y1="517.50" x2="575.60" y2="543.50" stroke-width="0.88" />
<text x="497.00" y="514.30" font-size="14" textLength="46" lengthAdjust="spacingAndGlyphs" >Ø4.5 (4x)</text>
</g>
</svg>
</body></html>
